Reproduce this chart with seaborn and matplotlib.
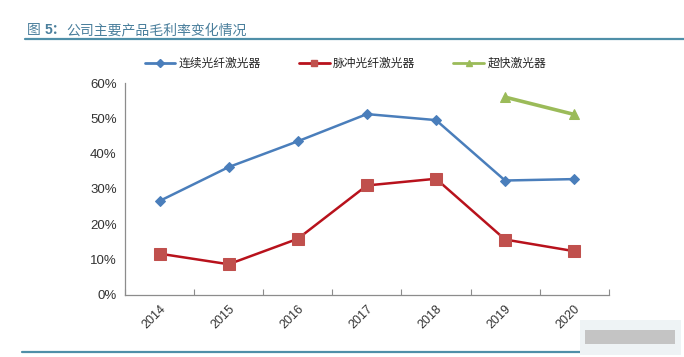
import numpy as np
import pandas as pd
import matplotlib
matplotlib.use("Agg")
import matplotlib.pyplot as plt
import seaborn as sns
from matplotlib.ticker import PercentFormatter, FixedLocator
from matplotlib.patches import Rectangle
from matplotlib.lines import Line2D

# ---------- 数据 ----------
years = [2014, 2015, 2016, 2017, 2018, 2019, 2020]
cw_laser = [26.6, 36.2, 43.5, 51.2, 49.5, 32.4, 32.8]           # 连续光纤激光器
pulse_laser = [11.7, 8.7, 15.9, 31.0, 32.9, 15.7, 12.4]         # 脉冲光纤激光器
ultrafast_laser = [np.nan, np.nan, np.nan, np.nan, np.nan, 56.0, 51.1]  # 超快激光器

series_names = ['连续光纤激光器', '脉冲光纤激光器', '超快激光器']
title_parts = [('图 ', 'normal'), ('5：', 'bold'), ('公司主要产品毛利率变化情况', 'normal')]

df = pd.DataFrame({'year': years,
                   series_names[0]: cw_laser,
                   series_names[1]: pulse_laser,
                   series_names[2]: ultrafast_laser})
long_df = df.melt(id_vars='year', var_name='product', value_name='margin').dropna()

# ---------- 样式 ----------
sns.set_theme(style="white")
plt.rcParams['font.family'] = ['Liberation Sans', 'Noto Sans CJK SC', 'DejaVu Sans']
plt.rcParams['axes.unicode_minus'] = False

line_colors = {series_names[0]: '#4a7ebb', series_names[1]: '#b8121c', series_names[2]: '#9bbb59'}
marker_colors = {series_names[0]: '#4a7ebb', series_names[1]: '#c0504d', series_names[2]: '#9bbb59'}
markers = {series_names[0]: 'D', series_names[1]: 's', series_names[2]: '^'}
marker_sizes = {series_names[0]: 5.5, series_names[1]: 8, series_names[2]: 7}
line_widths = {series_names[0]: 1.8, series_names[1]: 1.8, series_names[2]: 2.6}

fig = plt.figure(figsize=(6.84, 3.57), dpi=100)
ax = fig.add_axes([0.1827, 0.1737, 0.7073, 0.5938])

for name in series_names:
    sub = long_df[long_df['product'] == name]
    sns.lineplot(data=sub, x='year', y='margin', ax=ax, color=line_colors[name],
                 linewidth=line_widths[name], marker=markers[name],
                 markersize=marker_sizes[name],
                 markerfacecolor=marker_colors[name], markeredgecolor=marker_colors[name],
                 legend=False)

ax.set_xlim(years[0] - 0.5, years[-1] + 0.5)
ax.set_ylim(0, 60)
ax.yaxis.set_major_locator(FixedLocator(np.arange(0, 61, 10)))
ax.yaxis.set_major_formatter(PercentFormatter(decimals=0))
ax.set_xticks(years)
ax.set_xticklabels([str(y) for y in years], rotation=45, ha='right',
                   rotation_mode='anchor', fontsize=9, color='#333333')
ax.xaxis.set_minor_locator(FixedLocator(np.arange(years[0] - 0.5, years[-1] + 1, 1)))
ax.tick_params(axis='x', which='major', bottom=True, length=0, pad=6)
ax.tick_params(axis='x', which='minor', bottom=True, length=4, direction='in',
               color='#8c8c8c', width=0.8)
ax.tick_params(axis='y', length=0, labelsize=9.5, colors='#333333', pad=6)
ax.set_xlabel('')
ax.set_ylabel('')
ax.grid(False)

for side in ['top', 'right']:
    ax.spines[side].set_visible(False)
for side in ['left', 'bottom']:
    ax.spines[side].set_color('#8c8c8c')
    ax.spines[side].set_linewidth(0.9)

# ---------- 图例 ----------
handles = [Line2D([0], [0], color=line_colors[n], linewidth=2.0, marker=markers[n],
                  markersize=4, markerfacecolor=marker_colors[n],
                  markeredgecolor=marker_colors[n]) for n in series_names]
fig.legend(handles, series_names, loc='center', bbox_to_anchor=(0.505, 0.821),
           ncol=3, frameon=False, fontsize=8.5, handlelength=2.6, handletextpad=0.3,
           columnspacing=3.2)

# ---------- 标题与装饰线 ----------
x_pos = 0.039
fig.canvas.draw()
for txt, weight in title_parts:
    t = fig.text(x_pos, 0.916, txt, fontsize=10, color='#4a7f9c',
                 va='center', ha='left', fontweight=weight)
    bb = t.get_window_extent(renderer=fig.canvas.get_renderer())
    x_pos = bb.transformed(fig.transFigure.inverted()).x1

fig.add_artist(Line2D([0.037, 1.0], [0.890, 0.890], transform=fig.transFigure,
                      color='#4f8fa8', linewidth=1.6))
fig.add_artist(Line2D([0.032, 0.87], [0.014, 0.014], transform=fig.transFigure,
                      color='#4f8fa8', linewidth=1.6))

# 右下角模糊水印
fig.patches.append(Rectangle((0.848, 0.005), 0.148, 0.10, transform=fig.transFigure,
                             facecolor='#eef3f5', edgecolor='none', zorder=5))
fig.patches.append(Rectangle((0.855, 0.037), 0.132, 0.040, transform=fig.transFigure,
                             facecolor='#c4c4c4', edgecolor='none', zorder=6))

fig.savefig('out.png', dpi=100, facecolor='white')
